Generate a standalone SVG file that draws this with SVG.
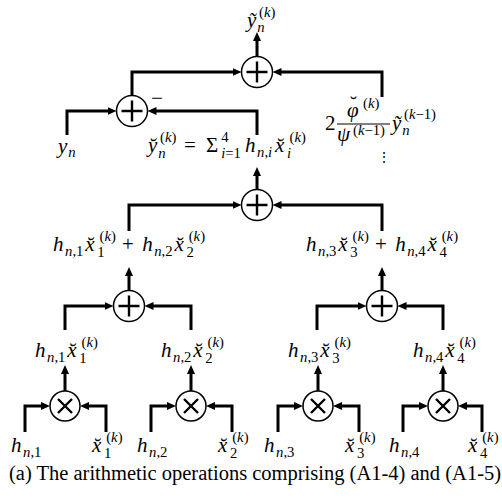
<svg xmlns="http://www.w3.org/2000/svg" width="502" height="498" viewBox="0 0 502 498">
<style>
.w{stroke:#000;stroke-width:3;fill:none;stroke-linejoin:miter}
.c{fill:#fff;stroke:#000;stroke-width:1.5}
.op{stroke:#000;stroke-width:2.4;fill:none}
.m{font-family:"Liberation Serif",serif;font-style:italic;font-size:21px;fill:#000}
.u{font-style:normal}
.s{font-size:14.7px}
.cap{font-family:"Liberation Serif",serif;font-size:20.5px;fill:#000}
</style>
<defs>
<marker id="ah" markerWidth="10" markerHeight="8" refX="3" refY="4" orient="auto" markerUnits="userSpaceOnUse"><path d="M0,0 L9,4 L0,8 z" fill="#000"/></marker>
<g id="plus"><circle class="c" r="15.5"/><path class="op" d="M-10.5,0 H10.5 M0,-10.5 V10.5"/></g>
<g id="times"><circle class="c" r="15"/><path class="op" d="M-7,-7 L7,7 M7,-7 L-7,7"/></g>
</defs>
<g id="connectors" marker-end="url(#ah)">
<path class="w" d="M257,56.5 V38"/>
<path class="w" d="M132,95.5 V72 H235.5"/>
<path class="w" d="M382,97 V72 H278.5"/>
<path class="w" d="M67,135 V111 H110.5"/>
<path class="w" d="M257,135 V111 H153.5"/>
<path class="w" d="M257,189.5 V173"/>
<path class="w" d="M129,231 V205 H235.5"/>
<path class="w" d="M382,231 V205 H278.5"/>
<path class="w" d="M129,290.5 V273"/>
<path class="w" d="M382,290.5 V273"/>
<path class="w" d="M65,330 V306 H107.5"/>
<path class="w" d="M191,330 V306 H150.5"/>
<path class="w" d="M317,330 V306 H360.5"/>
<path class="w" d="M443,330 V306 H403.5"/>
<path class="w" d="M65,391 V371"/>
<path class="w" d="M191,391 V371"/>
<path class="w" d="M318,391 V371"/>
<path class="w" d="M443,391 V371"/>
<path class="w" d="M25,432 V406 H44"/>
<path class="w" d="M106,432 V406 H86"/>
<path class="w" d="M151,432 V406 H170"/>
<path class="w" d="M232,432 V406 H212"/>
<path class="w" d="M278,432 V406 H297"/>
<path class="w" d="M359,432 V406 H339"/>
<path class="w" d="M403,432 V406 H422"/>
<path class="w" d="M482,432 V406 H464"/>
</g>
<g id="sum-out"><use href="#plus" x="257" y="72"/></g>
<g id="sum-minus"><use href="#plus" x="132" y="111"/><text class="m u" x="151" y="105" style="font-style:normal">−</text></g>
<g id="sum-all"><use href="#plus" x="257" y="205"/></g>
<g id="sum-12"><use href="#plus" x="129" y="306"/></g>
<g id="sum-34"><use href="#plus" x="382" y="306"/></g>
<g id="mul-1"><use href="#times" x="65" y="406"/></g>
<g id="mul-2"><use href="#times" x="191" y="406"/></g>
<g id="mul-3"><use href="#times" x="318" y="406"/></g>
<g id="mul-4"><use href="#times" x="443" y="406"/></g>
<g id="labels">
<text class="m"><tspan x="247" y="27">ỹ</tspan><tspan class="s" x="257.3" y="32">n</tspan><tspan class="s" x="259" y="17"><tspan class="u">(</tspan>k<tspan class="u">)</tspan></tspan></text>
<text class="m"><tspan x="58" y="153">y</tspan><tspan class="s" x="68.3" y="157">n</tspan></text>
<text class="m"><tspan x="148" y="152">y̆</tspan><tspan class="s" x="158.3" y="158">n</tspan><tspan class="s" x="160" y="142"><tspan class="u">(</tspan>k<tspan class="u">)</tspan></tspan><tspan class="u" x="183.9" y="152">=</tspan><tspan class="u" x="206" y="152">Σ</tspan><tspan class="s" x="221.2" y="158">i<tspan class="u">=1</tspan></tspan><tspan class="s u" x="221.2" y="142">4</tspan><tspan x="245" y="152">h</tspan><tspan class="s" x="257.1" y="157">n<tspan class="u">,</tspan>i</tspan><tspan x="275.1" y="152">x̆</tspan><tspan class="s" x="287.1" y="158">i</tspan><tspan class="s" x="289.5" y="142"><tspan class="u">(</tspan>k<tspan class="u">)</tspan></tspan></text>
<text class="m"><tspan class="u" x="325" y="130">2</tspan><tspan x="347" y="117">φ</tspan><tspan class="u" x="350" y="111">˘</tspan><tspan class="s" x="363" y="108"><tspan class="u">(</tspan>k<tspan class="u">)</tspan></tspan><tspan x="337" y="141">ψ</tspan><tspan class="s" x="353" y="135"><tspan class="u">(</tspan>k<tspan class="u">−1)</tspan></tspan><tspan x="392" y="130">ỹ</tspan><tspan class="s" x="402.3" y="135">n</tspan><tspan class="s" x="404" y="119"><tspan class="u">(</tspan>k<tspan class="u">−1)</tspan></tspan></text>
<path d="M337,124 H390" stroke="#000" stroke-width="1"/>
<text x="377" y="162" style="font-family:'DejaVu Serif',serif;font-size:14px">⋮</text>
<text class="m"><tspan x="53" y="251">h</tspan><tspan class="s" x="65.1" y="256">n<tspan class="u">,1</tspan></tspan><tspan x="85.35" y="251">x̆</tspan><tspan class="s u" x="97.35" y="257">1</tspan><tspan class="s" x="99.5" y="241"><tspan class="u">(</tspan>k<tspan class="u">)</tspan></tspan><tspan class="u" x="122" y="251">+</tspan><tspan x="142.15" y="251">h</tspan><tspan class="s" x="154.25" y="256">n<tspan class="u">,2</tspan></tspan><tspan x="174.5" y="251">x̆</tspan><tspan class="s u" x="186.5" y="257">2</tspan><tspan class="s" x="188.7" y="241"><tspan class="u">(</tspan>k<tspan class="u">)</tspan></tspan></text>
<text class="m"><tspan x="306" y="251">h</tspan><tspan class="s" x="318.1" y="256">n<tspan class="u">,3</tspan></tspan><tspan x="338.35" y="251">x̆</tspan><tspan class="s u" x="350.35" y="257">3</tspan><tspan class="s" x="352.5" y="241"><tspan class="u">(</tspan>k<tspan class="u">)</tspan></tspan><tspan class="u" x="375" y="251">+</tspan><tspan x="395.15" y="251">h</tspan><tspan class="s" x="407.25" y="256">n<tspan class="u">,4</tspan></tspan><tspan x="427.5" y="251">x̆</tspan><tspan class="s u" x="439.5" y="257">4</tspan><tspan class="s" x="441.7" y="241"><tspan class="u">(</tspan>k<tspan class="u">)</tspan></tspan></text>
<text class="m"><tspan x="35" y="357">h</tspan><tspan class="s" x="47.1" y="362">n<tspan class="u">,1</tspan></tspan><tspan x="67.35" y="357">x̆</tspan><tspan class="s u" x="79.35" y="363">1</tspan><tspan class="s" x="81.5" y="347"><tspan class="u">(</tspan>k<tspan class="u">)</tspan></tspan></text>
<text class="m"><tspan x="161" y="357">h</tspan><tspan class="s" x="173.1" y="362">n<tspan class="u">,2</tspan></tspan><tspan x="193.35" y="357">x̆</tspan><tspan class="s u" x="205.35" y="363">2</tspan><tspan class="s" x="207.5" y="347"><tspan class="u">(</tspan>k<tspan class="u">)</tspan></tspan></text>
<text class="m"><tspan x="288" y="357">h</tspan><tspan class="s" x="300.1" y="362">n<tspan class="u">,3</tspan></tspan><tspan x="320.35" y="357">x̆</tspan><tspan class="s u" x="332.35" y="363">3</tspan><tspan class="s" x="334.5" y="347"><tspan class="u">(</tspan>k<tspan class="u">)</tspan></tspan></text>
<text class="m"><tspan x="413" y="357">h</tspan><tspan class="s" x="425.1" y="362">n<tspan class="u">,4</tspan></tspan><tspan x="445.35" y="357">x̆</tspan><tspan class="s u" x="457.35" y="363">4</tspan><tspan class="s" x="459.5" y="347"><tspan class="u">(</tspan>k<tspan class="u">)</tspan></tspan></text>
<text class="m"><tspan x="11" y="452">h</tspan><tspan class="s" x="23.1" y="457">n<tspan class="u">,1</tspan></tspan></text>
<text class="m"><tspan x="137" y="452">h</tspan><tspan class="s" x="149.1" y="457">n<tspan class="u">,2</tspan></tspan></text>
<text class="m"><tspan x="264" y="452">h</tspan><tspan class="s" x="276.1" y="457">n<tspan class="u">,3</tspan></tspan></text>
<text class="m"><tspan x="389" y="452">h</tspan><tspan class="s" x="401.1" y="457">n<tspan class="u">,4</tspan></tspan></text>
<text class="m"><tspan x="92" y="452">x̆</tspan><tspan class="s u" x="104" y="458">1</tspan><tspan class="s" x="106.2" y="442"><tspan class="u">(</tspan>k<tspan class="u">)</tspan></tspan></text>
<text class="m"><tspan x="218" y="452">x̆</tspan><tspan class="s u" x="230" y="458">2</tspan><tspan class="s" x="232.2" y="442"><tspan class="u">(</tspan>k<tspan class="u">)</tspan></tspan></text>
<text class="m"><tspan x="345" y="452">x̆</tspan><tspan class="s u" x="357" y="458">3</tspan><tspan class="s" x="359.2" y="442"><tspan class="u">(</tspan>k<tspan class="u">)</tspan></tspan></text>
<text class="m"><tspan x="468" y="452">x̆</tspan><tspan class="s u" x="480" y="458">4</tspan><tspan class="s" x="482.2" y="442"><tspan class="u">(</tspan>k<tspan class="u">)</tspan></tspan></text>
</g>
<text class="cap" x="9" y="480">(a) The arithmetic operations comprising (A1-4) and (A1-5)</text>
</svg>
